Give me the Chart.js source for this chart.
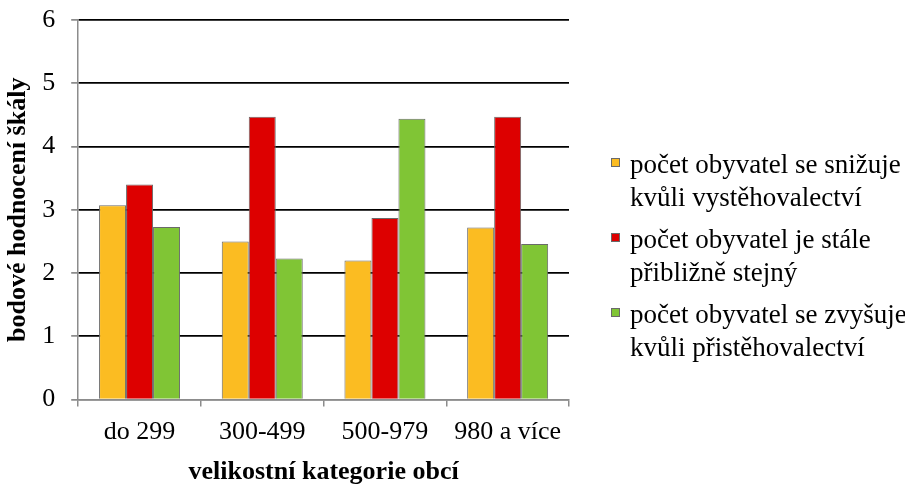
<!DOCTYPE html>
<html>
<head>
<meta charset="utf-8">
<script src="https://cdn.jsdelivr.net/npm/chart.js@4.4.0/dist/chart.umd.min.js"></script>
<style>
html,body{margin:0;padding:0;background:#fff;}
#wrap{width:905px;height:484px;}
</style>
</head>
<body>
<div id="wrap"><canvas id="c" width="905" height="484"></canvas></div>
<script>
const categories = ["do 299", "300-499", "500-979", "980 a více"];
const seriesLabels = [
  ["počet obyvatel se snižuje", "kvůli vystěhovalectví"],
  ["počet obyvatel je stále", "přibližně stejný"],
  ["počet obyvatel se zvyšuje", "kvůli přistěhovalectví"]
];
const decreasing = [3.07, 2.50, 2.20, 2.72];
const stable = [3.40, 4.47, 2.87, 4.47];
const increasing = [2.73, 2.23, 4.44, 2.46];
const yTicks = [0, 1, 2, 3, 4, 5, 6];
const xTitle = "velikostní kategorie obcí";
const yTitle = "bodové hodnocení škály";

const colors = ["#FBBC22", "#DD0000", "#80C535"];
const serif = "'Liberation Serif', 'Times New Roman', serif";

const ds = [decreasing, stable, increasing].map((d, i) => ({
  label: seriesLabels[i],
  data: d,
  backgroundColor: colors[i],
  borderColor: "#6a6a6a",
  borderWidth: 1,
  barPercentage: 1.0,
  categoryPercentage: 0.66
}));

// Custom right-hand legend (multi-line labels), drawn from the dataset definitions
const sideLegend = {
  id: "sideLegend",
  afterDraw(chart) {
    const ctx = chart.ctx;
    ctx.save();
    ctx.font = "27px " + serif;
    ctx.textBaseline = "alphabetic";
    ctx.textAlign = "left";
    const boxX = 611, textX = 630, firstBase = 173, itemGap = 75, lineGap = 33;
    chart.data.datasets.forEach((d, i) => {
      const base = firstBase + i * itemGap;
      ctx.fillStyle = d.backgroundColor;
      ctx.fillRect(boxX, base - 15, 9, 9);
      ctx.strokeStyle = d.borderColor;
      ctx.lineWidth = 1;
      ctx.strokeRect(boxX + 0.5, base - 15 + 0.5, 8, 8);
      ctx.fillStyle = "#000";
      const lines = Array.isArray(d.label) ? d.label : [d.label];
      lines.forEach((t, j) => ctx.fillText(t, textX, base + j * lineGap));
    });
    ctx.restore();
  }
};

new Chart(document.getElementById("c"), {
  type: "bar",
  data: { labels: categories, datasets: ds },
  plugins: [sideLegend],
  options: {
    responsive: false,
    animation: false,
    devicePixelRatio: 1,
    layout: { padding: { left: 2, top: 20, right: 336, bottom: -4 } },
    plugins: {
      tooltip: { enabled: false },
      legend: { display: false }
    },
    scales: {
      x: {
        grid: {
          offset: true,
          drawOnChartArea: false,
          color: "#8c8c8c",
          tickLength: 7,
          lineWidth: 1.5
        },
        border: { color: "#8c8c8c", width: 1.5 },
        ticks: { font: { family: serif, size: 26 }, color: "#000", padding: 10, maxRotation: 0 },
        title: { display: true, text: xTitle, font: { family: serif, size: 26, weight: "bold" }, color: "#000", padding: { top: -1, bottom: 0 } }
      },
      y: {
        min: 0,
        max: 6,
        afterBuildTicks: (s) => { s.ticks = yTicks.map(v => ({ value: v })); },
        afterFit: (s) => { s.paddingTop = 0; s.paddingBottom = 0; },
        grid: {
          color: (ctx) => (ctx.tick && ctx.tick.value === 0) ? "#8c8c8c" : "#000",
          tickColor: "#8c8c8c",
          tickLength: 7,
          lineWidth: 1.75
        },
        border: { color: "#8c8c8c", width: 1.5 },
        ticks: { font: { family: serif, size: 26 }, color: "#000", padding: 16 },
        title: { display: true, text: yTitle, font: { family: serif, size: 26, weight: "bold" }, color: "#000", padding: { top: 1, bottom: -8 } }
      }
    }
  }
});
</script>
</body>
</html>
